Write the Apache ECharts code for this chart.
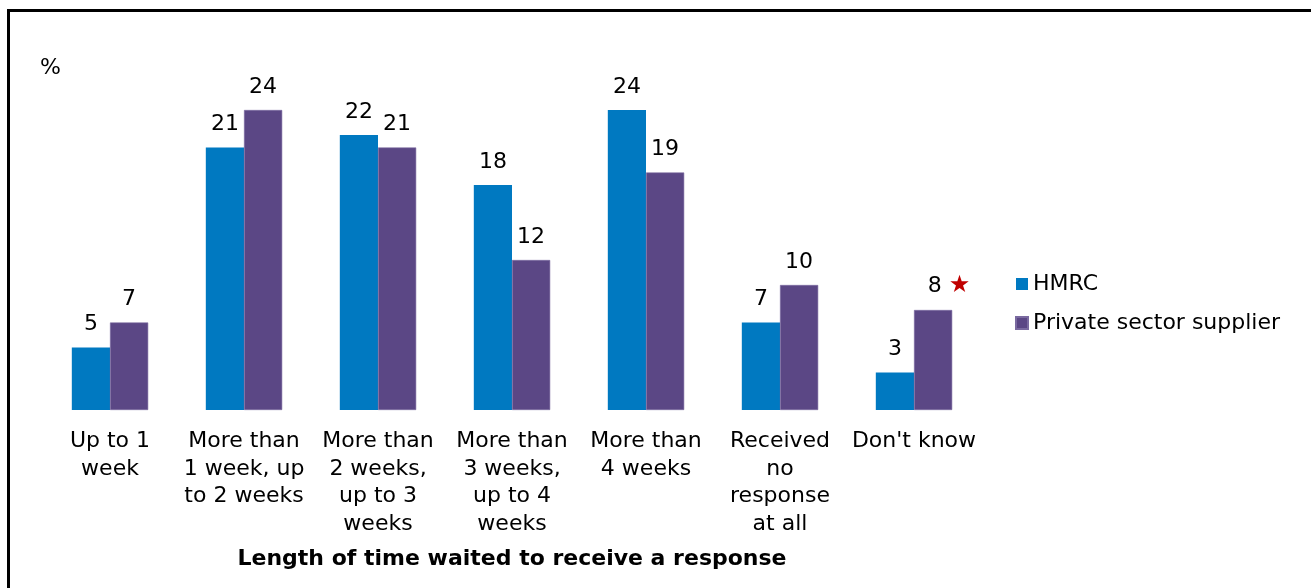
<!DOCTYPE html>
<html>
<head>
<meta charset="utf-8">
<script src="https://cdn.jsdelivr.net/npm/echarts@6/dist/echarts.min.js"></script>
<style>
  html, body { margin: 0; padding: 0; background: #fff; }
  #frame { position: absolute; left: 7px; top: 9px; width: 1310px; height: 600px;
           border-left: 3px solid #000; border-top: 3px solid #000; box-sizing: border-box; }
  #chart { position: absolute; left: 0; top: 0; width: 1311px; height: 588px; }
</style>
</head>
<body>
<div id="frame"></div>
<div id="chart"></div>
<script>
// Survey categories: how long respondents waited for a reply
const categories = [
  'Up to 1\nweek',
  'More than\n1 week, up\nto 2 weeks',
  'More than\n2 weeks,\nup to 3\nweeks',
  'More than\n3 weeks,\nup to 4\nweeks',
  'More than\n4 weeks',
  'Received\nno\nresponse\nat all',
  "Don't know"
];
const seriesNames = ['HMRC', 'Private sector supplier'];
const hmrcValues = [5, 21, 22, 18, 24, 7, 3];
const privateValues = [7, 24, 21, 12, 19, 10, 8];
// index of the value flagged as a significant difference
const flaggedIndex = 6;

const FONT = 'DejaVu Sans';
const FS = 22;
const chart = echarts.init(document.getElementById('chart'), null, { renderer: 'canvas' });

const labelBase = {
  show: true, position: 'top', distance: 12,
  fontFamily: FONT, fontSize: FS, color: '#000'
};

chart.setOption({
  animation: false,
  title: {
    text: '%', left: 40, top: 57, padding: 0,
    textStyle: { fontFamily: FONT, fontSize: FS, fontWeight: 'normal', color: '#000' }
  },
  legend: {
    orient: 'vertical', left: 1015, top: 273, padding: 0,
    itemWidth: 12, itemHeight: 12, itemGap: 17,
    icon: 'rect',
    textStyle: { fontFamily: FONT, fontSize: FS, color: '#000' },
    data: seriesNames
  },
  grid: { left: 43, right: 1311 - 981, top: 35, bottom: 178 },
  xAxis: {
    type: 'category',
    data: categories,
    axisLine: { show: false },
    axisTick: { show: false },
    axisLabel: {
      interval: 0, margin: 18, fontFamily: FONT, fontSize: FS,
      lineHeight: 27.5, color: '#000', align: 'center', verticalAlign: 'top'
    },
    name: 'Length of time waited to receive a response',
    nameLocation: 'middle', nameGap: 138,
    nameTextStyle: { fontFamily: FONT, fontSize: FS, fontWeight: 'bold', color: '#000' }
  },
  yAxis: { type: 'value', min: 0, max: 30, show: false },
  series: [
    {
      name: seriesNames[0], type: 'bar', data: hmrcValues,
      barGap: '0%', barCategoryGap: '43%',
      itemStyle: { color: '#0079c1' },
      label: labelBase
    },
    {
      name: seriesNames[1], type: 'bar',
      data: privateValues.map((v, i) => i === flaggedIndex ? {
        value: v,
        label: {
          formatter: '{v|{c}} {s|★}', offset: [16, 0],
          rich: {
            v: { fontFamily: FONT, fontSize: FS, color: '#000' },
            s: { fontFamily: FONT, fontSize: 24, color: '#c00000' }
          }
        }
      } : v),
      barGap: '0%', barCategoryGap: '43%',
      itemStyle: { color: '#5b4785', borderColor: '#7a6aa0', borderWidth: 0.6 },
      label: labelBase
    }
  ]
});
</script>
</body>
</html>
